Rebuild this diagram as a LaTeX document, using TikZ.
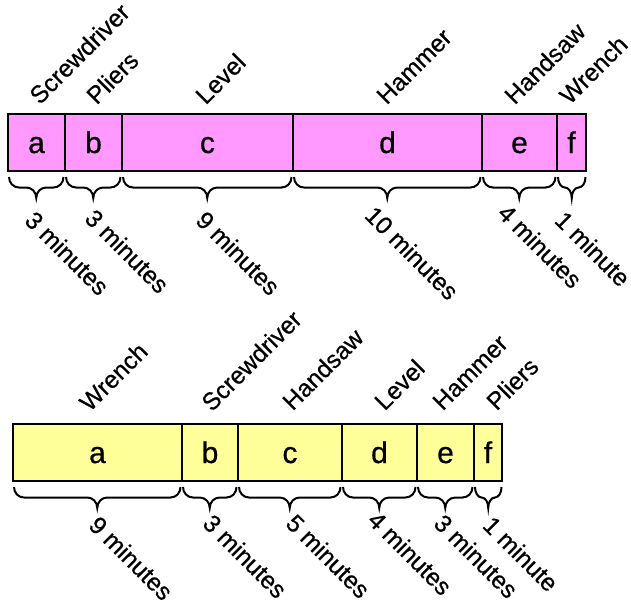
\documentclass[tikz,border=0pt]{standalone}
\usepackage{fontspec}
\setmainfont[FakeBold=0.6]{Liberation Sans}
\definecolor{pinkc}{HTML}{FF99FF}
\definecolor{yelc}{HTML}{FFFF99}
\newcommand\brc[3]{%
 \pgfmathsetmacro\bxa{#1}\pgfmathsetmacro\bxb{#2}\pgfmathsetmacro\by{#3}%
 \pgfmathsetmacro\bm{(#1+#2)/2}%
 \pgfmathsetmacro\br{min(10,(#2-#1)/4)}%
 \draw[brcline] (\bxa,\by) .. controls (\bxa,\by+6) and (\bxa+\br*0.45,\by+10.5) .. (\bxa+\br,\by+10.5) -- (\bm-\br,\by+10.5) .. controls (\bm-\br*0.45,\by+10.5) and (\bm,\by+15) .. (\bm,\by+21) .. controls (\bm,\by+15) and (\bm+\br*0.45,\by+10.5) .. (\bm+\br,\by+10.5) -- (\bxb-\br,\by+10.5) .. controls (\bxb-\br*0.45,\by+10.5) and (\bxb,\by+6) .. (\bxb,\by);%
}
\begin{document}
\begin{tikzpicture}[x=1pt,y=-1pt,
  seg/.style={draw=black, line width=2pt, inner sep=0pt, minimum height=57pt,
    text height=21pt, text depth=0pt, font=\fontsize{30}{32}\selectfont},
  pseg/.style={seg, fill=pinkc},
  yseg/.style={seg, fill=yelc},
  tool/.style={rotate=45, anchor=south west, inner sep=0pt, font=\fontsize{24.5}{26}\selectfont},
  mins/.style={rotate=-45, anchor=south west, inner sep=0pt, font=\fontsize{24.5}{26}\selectfont},
  brcline/.style={line width=2pt}]
\useasboundingbox (0,0) rectangle (631,602);
% top bar
\node[pseg, minimum width=57pt]  (ta) at (36.5,142.5) {a};
\node[pseg, minimum width=57pt]  (tb) at (93.5,142.5) {b};
\node[pseg, minimum width=171pt] (tc) at (207.5,142.5) {c};
\node[pseg, minimum width=189pt] (td) at (387.5,142.5) {d};
\node[pseg, minimum width=75pt]  (te) at (519.5,142.5) {e};
\node[pseg, minimum width=29pt]  (tf) at (571.5,142.5) {f};
\node[tool] (tl1) at (40,106) {Screwdriver};
\node[tool] (tl2) at (97,106) {Pliers};
\node[tool] (tl3) at (206,106) {Level};
\node[tool] (tl4) at (387,106) {Hammer};
\node[tool] (tl5) at (515,106) {Handsaw};
\node[tool] (tl6) at (570,106) {Wrench};
\brc{9}{63.5}{177}
\brc{66}{120.5}{177}
\brc{123}{291.5}{177}
\brc{294}{480.5}{177}
\brc{483}{555.5}{177}
\brc{558}{585.5}{177}
\node[mins] (tm1) at (23,222) {3 minutes};
\node[mins] (tm2) at (83,220) {3 minutes};
\node[mins] (tm3) at (194,222) {9 minutes};
\node[mins] (tm4) at (363,217) {10 minutes};
\node[mins] (tm5) at (496,215) {4 minutes};
\node[mins] (tm6) at (553,222) {1 minute};
% bottom bar
\node[yseg, minimum width=169pt] (ba) at (97.5,452.5) {a};
\node[yseg, minimum width=56pt]  (bb) at (210,452.5) {b};
\node[yseg, minimum width=104pt] (bc) at (290,452.5) {c};
\node[yseg, minimum width=75pt]  (bd) at (379.5,452.5) {d};
\node[yseg, minimum width=57pt]  (be) at (445.5,452.5) {e};
\node[yseg, minimum width=28pt]  (bf) at (488,452.5) {f};
\node[tool] (bl1) at (90,413) {Wrench};
\node[tool] (bl2) at (212,413) {Screwdriver};
\node[tool] (bl3) at (293,412) {Handsaw};
\node[tool] (bl4) at (385,412) {Level};
\node[tool] (bl5) at (443,412) {Hammer};
\node[tool] (bl6) at (497,412) {Pliers};
\brc{14}{180.5}{487}
\brc{183}{236.5}{487}
\brc{239}{340.5}{487}
\brc{343}{415.5}{487}
\brc{418}{472.5}{487}
\brc{475}{501.5}{487}
\node[mins] (bm1) at (87,527) {9 minutes};
\node[mins] (bm2) at (201,525) {3 minutes};
\node[mins] (bm3) at (284,525) {5 minutes};
\node[mins] (bm4) at (366,522) {4 minutes};
\node[mins] (bm5) at (432,525) {3 minutes};
\node[mins] (bm6) at (481,527) {1 minute};
\end{tikzpicture}
\end{document}
